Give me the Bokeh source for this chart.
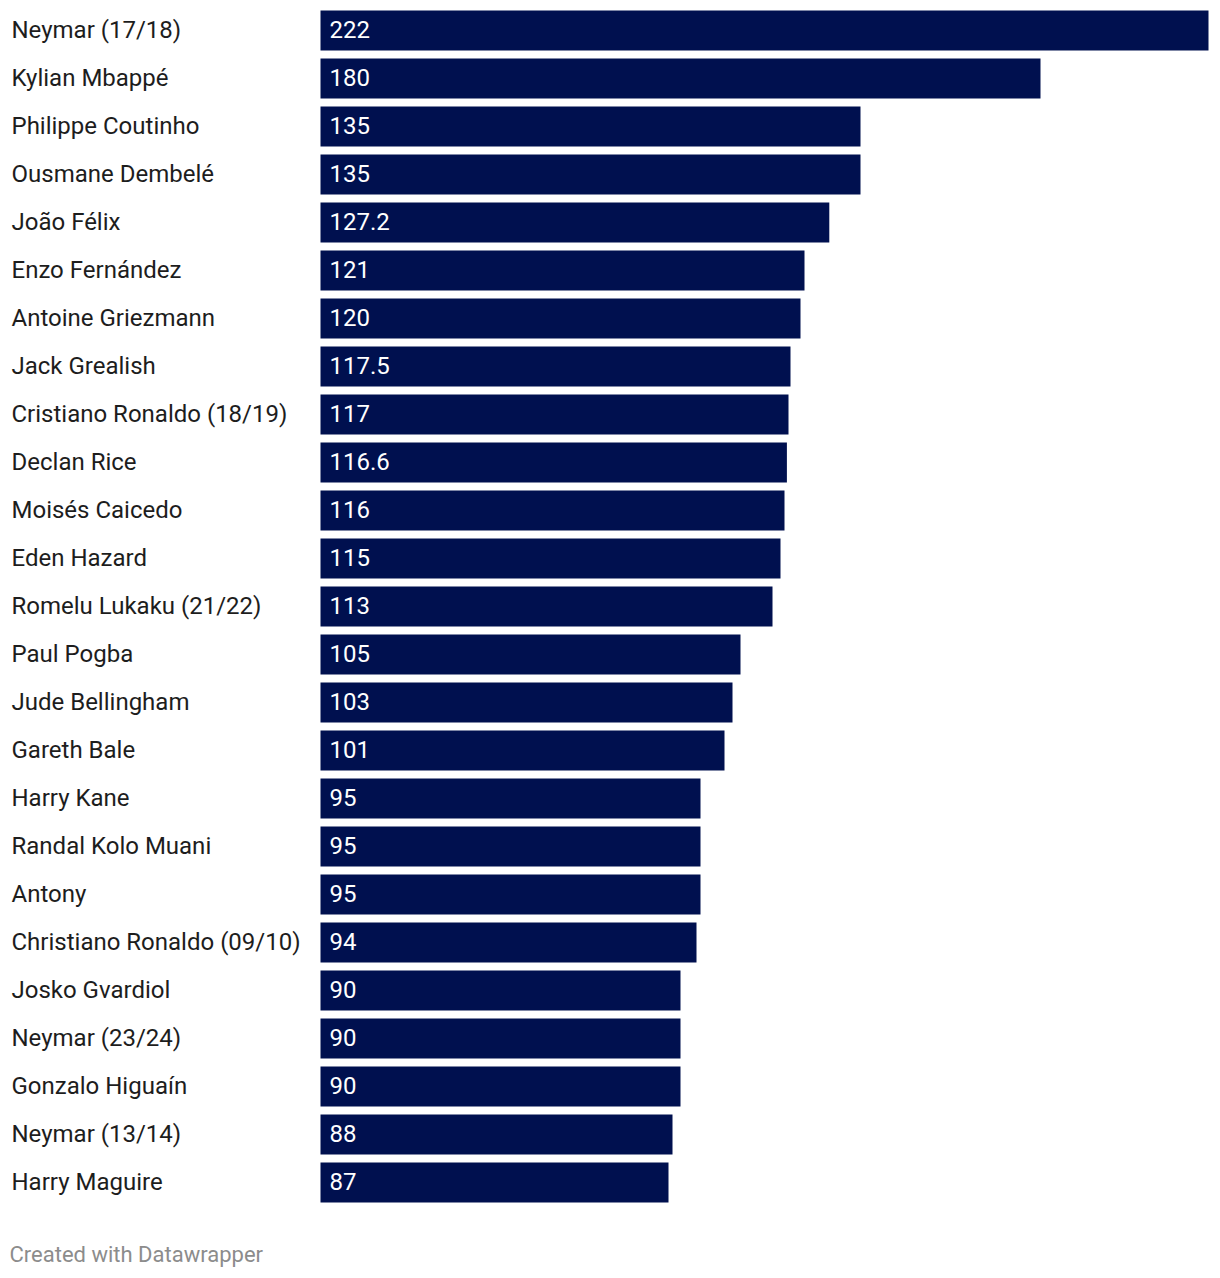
from bokeh.plotting import figure
from bokeh.models import Range1d, ColumnDataSource
from bokeh.core.properties import value
from bokeh.embed import file_html
from bokeh.resources import INLINE

players = ["Neymar (17/18)", "Kylian Mbappé", "Philippe Coutinho", "Ousmane Dembelé",
           "João Félix", "Enzo Fernández", "Antoine Griezmann", "Jack Grealish",
           "Cristiano Ronaldo (18/19)", "Declan Rice", "Moisés Caicedo", "Eden Hazard",
           "Romelu Lukaku (21/22)", "Paul Pogba", "Jude Bellingham", "Gareth Bale",
           "Harry Kane", "Randal Kolo Muani", "Antony", "Christiano Ronaldo (09/10)",
           "Josko Gvardiol", "Neymar (23/24)", "Gonzalo Higuaín", "Neymar (13/14)",
           "Harry Maguire"]
fees = [222, 180, 135, 135, 127.2, 121, 120, 117.5, 117, 116.6, 116, 115, 113, 105,
        103, 101, 95, 95, 95, 94, 90, 90, 90, 88, 87]
fee_labels = ["222", "180", "135", "135", "127.2", "121", "120", "117.5", "117", "116.6",
              "116", "115", "113", "105", "103", "101", "95", "95", "95", "94", "90",
              "90", "90", "88", "87"]
footer = "Created with Datawrapper"

W, H = 1212, 1270
top = -30 / 48
p = figure(width=W, height=H, output_backend="svg", toolbar_location=None,
           x_range=Range1d(-80, -80 + W / 4), y_range=Range1d(top + H / 48, top),
           min_border=0, min_border_left=0, min_border_right=0,
           min_border_top=0, min_border_bottom=0)
p.axis.visible = False
p.grid.visible = False
p.outline_line_color = None
p.background_fill_color = "white"
p.border_fill_color = "white"

ys = list(range(len(players)))
src = ColumnDataSource(dict(y=ys, fee=fees, name=players, lab=fee_labels))

p.hbar(y="y", left=0, right="fee", height=40/48, source=src,
       fill_color="#00104f", line_color=None)
p.text(x=-77.25, y="y", text="name", source=src, text_baseline="middle",
       text_align="left", text_font=value("Roboto"), text_font_size="24px",
       text_color="#1d1d1d", y_offset=-1)
p.text(x=2.25, y="y", text="lab", source=src, text_baseline="middle",
       text_align="left", text_font=value("Roboto"), text_font_size="24px",
       text_color="white", y_offset=-1)
p.text(x=[-77.75], y=[(1255 - 30) / 48], text=[footer], text_baseline="middle",
       text_align="left", text_font=value("Roboto"), text_font_size="22px",
       text_color="#8c8c8c", y_offset=-1)

open("out.html", "w").write(file_html(p, INLINE))
